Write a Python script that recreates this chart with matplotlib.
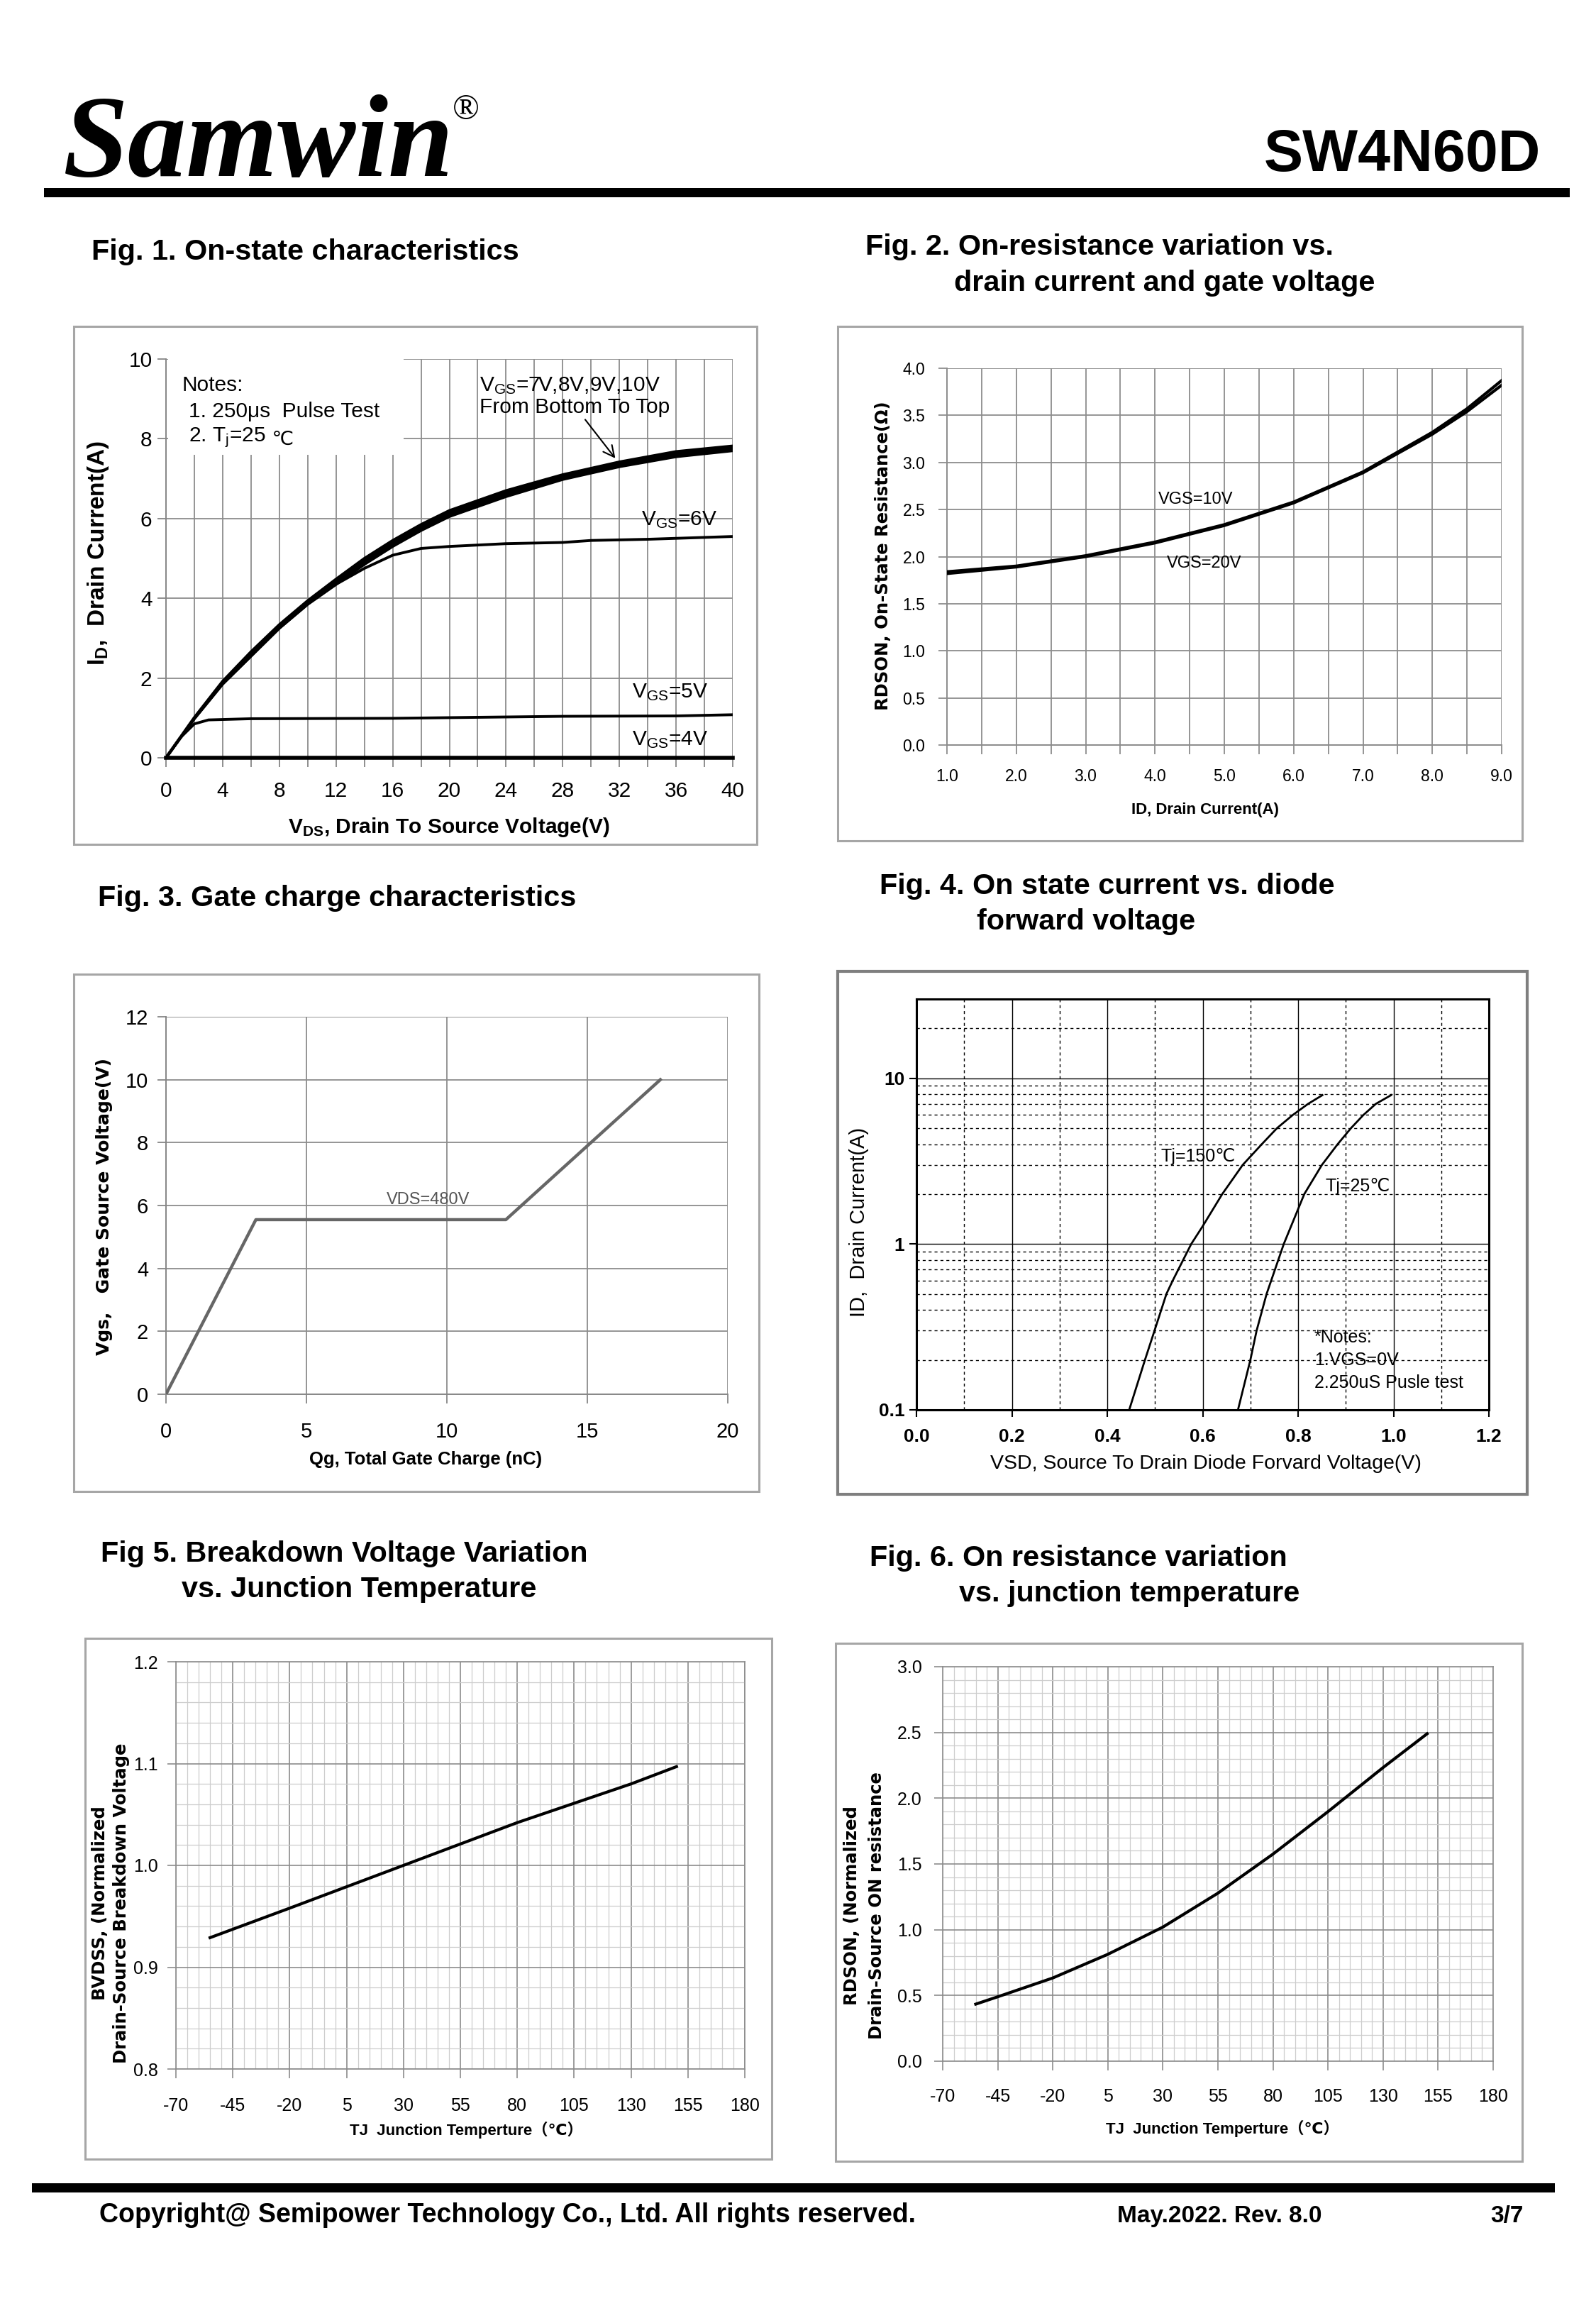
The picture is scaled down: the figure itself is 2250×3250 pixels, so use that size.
import numpy as np
import matplotlib
matplotlib.use("Agg")
import matplotlib.pyplot as plt
from matplotlib.patches import Rectangle
from matplotlib.ticker import MultipleLocator, FixedLocator, LogLocator, NullFormatter, FormatStrFormatter

W, H, DPI = 2250, 3250, 100

# Fig 1: on-state characteristics, VDS (V) vs ID (A)
vds = [0, 2, 4, 6, 8, 10, 12, 14, 16, 18, 20, 24, 28, 32, 36, 40]
id_7v = [0, 0.98, 1.85, 2.55, 3.25, 3.85, 4.35, 4.85, 5.30, 5.70, 6.05, 6.55, 6.98, 7.30, 7.55, 7.70]
id_8v = [0, 0.99, 1.88, 2.60, 3.28, 3.88, 4.40, 4.90, 5.35, 5.75, 6.10, 6.60, 7.02, 7.34, 7.60, 7.74]
id_9v = [0, 1.00, 1.90, 2.63, 3.31, 3.91, 4.44, 4.95, 5.40, 5.80, 6.15, 6.65, 7.06, 7.38, 7.64, 7.78]
id_10v = [0, 1.01, 1.92, 2.66, 3.34, 3.94, 4.48, 5.00, 5.45, 5.85, 6.20, 6.70, 7.10, 7.42, 7.68, 7.82]
vds_6v = [0, 2, 4, 6, 8, 10, 12, 14, 16, 18, 20, 24, 28, 30, 34, 40]
id_6v = [0, 0.98, 1.85, 2.55, 3.25, 3.85, 4.35, 4.75, 5.08, 5.25, 5.30, 5.37, 5.40, 5.45, 5.48, 5.55]
vds_5v = [0, 1, 2, 3, 6, 16, 28, 36, 40]
id_5v = [0, 0.50, 0.85, 0.95, 0.98, 0.99, 1.04, 1.05, 1.08]
vds_4v = [0, 40]
id_4v = [0, 0]

# Fig 2: RDSON vs ID
id2 = [1, 2, 3, 4, 5, 6, 7, 8, 8.5, 9]
rds_10v = [1.84, 1.90, 2.01, 2.155, 2.34, 2.58, 2.90, 3.32, 3.57, 3.87]
rds_20v = [1.82, 1.89, 2.00, 2.145, 2.33, 2.57, 2.89, 3.30, 3.54, 3.82]

# Fig 3: gate charge
qg = [0, 3.2, 12.1, 17.6]
vgs = [0, 5.55, 5.55, 10.0]

# Fig 4: diode forward characteristics
vsd_150 = [0.446, 0.479, 0.499, 0.524, 0.537, 0.576, 0.600, 0.641, 0.684, 0.724, 0.756, 0.789, 0.821, 0.851]
isd_150 = [0.1, 0.2, 0.3, 0.5, 0.6, 1.0, 1.28, 2.0, 3.0, 4.0, 5.0, 6.0, 7.0, 7.9]
vsd_25 = [0.674, 0.700, 0.713, 0.734, 0.770, 0.813, 0.850, 0.883, 0.911, 0.937, 0.963, 0.995]
isd_25 = [0.1, 0.2, 0.3, 0.5, 1.0, 2.0, 3.0, 4.0, 5.0, 6.0, 7.0, 7.9]

# Fig 5: normalized BVDSS vs TJ
tj5 = [-55, -20, 5, 30, 55, 80, 105, 130, 150]
bvdss = [0.929, 0.958, 0.979, 1.0, 1.021, 1.042, 1.061, 1.080, 1.097]

# Fig 6: normalized RDSON vs TJ
tj6 = [-55, -45, -20, 5, 30, 55, 80, 105, 130, 150]
rdson = [0.434, 0.49, 0.633, 0.813, 1.02, 1.278, 1.575, 1.898, 2.233, 2.49]

ARIAL = ['Liberation Sans', 'DejaVu Sans', 'Noto Sans CJK SC']
VERD = ['DejaVu Sans']
plt.rcParams['font.family'] = ARIAL
plt.rcParams['axes.unicode_minus'] = False
plt.rcParams['mathtext.fontset'] = 'custom'
plt.rcParams['mathtext.rm'] = 'Liberation Sans'
plt.rcParams['mathtext.it'] = 'Liberation Sans:italic'
plt.rcParams['mathtext.bf'] = 'Liberation Sans:bold'

GRID = '#8c8c8c'
fig = plt.figure(figsize=(W / DPI, H / DPI), dpi=DPI)


def rect(x0, y0, x1, y1):
    return [x0 / W, 1 - y1 / H, (x1 - x0) / W, (y1 - y0) / H]


def ftext(x, y, s, **kw):
    return fig.text(x / W, 1 - y / H, s, **kw)


def bar(x0, y0, x1, y1, color='black', fill=True, lw=0):
    fig.add_artist(Rectangle((x0 / W, 1 - y1 / H), (x1 - x0) / W, (y1 - y0) / H,
                             transform=fig.transFigure, fill=fill,
                             facecolor=color if fill else 'none',
                             edgecolor=color, linewidth=lw))


def frame(x0, y0, x1, y1, color='#a6a6a6', lw=2.2):
    bar(x0, y0, x1, y1, color=color, fill=False, lw=lw)


def style_axes(ax, color='#868686'):
    for s in ('top', 'right'):
        ax.spines[s].set_visible(False)
    for s in ('left', 'bottom'):
        ax.spines[s].set_color(color)
        ax.spines[s].set_linewidth(1.4)
    ax.set_axisbelow(True)


# ---------------- header / footer ----------------
ftext(88, 248, 'Samwin', family='Liberation Serif', weight='bold', style='italic',
      fontsize=119, va='baseline')
ftext(638, 132, '®', family='Liberation Serif', fontsize=36, va='top')
ftext(2172, 241, 'SW4N60D', weight='bold', fontsize=59.5, ha='right', va='baseline')
bar(62, 265, 2213, 278)

bar(45, 3077, 2192, 3090)
ftext(140, 3132, 'Copyright@ Semipower Technology Co., Ltd. All rights reserved.',
      weight='bold', fontsize=27, va='baseline')
ftext(1575, 3132, 'May.2022. Rev. 8.0', weight='bold', fontsize=24, va='baseline')
ftext(2148, 3132, '3/7', weight='bold', fontsize=24, ha='right', va='baseline')

# ---------------- titles ----------------
TT = dict(weight='bold', fontsize=29.8, va='baseline')
ftext(129, 366, 'Fig. 1. On-state characteristics', **TT)
ftext(1220, 359, 'Fig. 2. On-resistance variation vs.', **TT)
ftext(1345, 410, 'drain current and gate voltage', **TT)
ftext(138, 1277, 'Fig. 3. Gate charge characteristics', **TT)
ftext(1240, 1260, 'Fig. 4. On state current vs. diode', **TT)
ftext(1377, 1310, 'forward voltage', **TT)
ftext(142, 2201, 'Fig 5. Breakdown Voltage Variation', **TT)
ftext(256, 2251, 'vs. Junction Temperature', **TT)
ftext(1226, 2207, 'Fig. 6. On resistance variation', **TT)
ftext(1352, 2257, 'vs. junction temperature', **TT)

# ---------------- Fig 1 ----------------
frame(104, 460, 1067, 1190)
ax1 = fig.add_axes(rect(234, 506, 1033, 1068))
style_axes(ax1)
ax1.set_xlim(0, 40)
ax1.set_ylim(0, 10)
ax1.xaxis.set_major_locator(MultipleLocator(4))
ax1.xaxis.set_minor_locator(MultipleLocator(2))
ax1.yaxis.set_major_locator(MultipleLocator(2))
ax1.grid(which='both', axis='x', color=GRID, lw=1.3)
ax1.grid(which='major', axis='y', color=GRID, lw=1.3)
ax1.tick_params(which='both', direction='out', length=9, width=1.3, color='#868686',
                labelsize=21.5)
ax1.tick_params(axis='x', pad=15)
ax1.tick_params(axis='y', pad=5)
ax1.add_patch(Rectangle((0.15, 7.6), 16.6, 2.6, facecolor='white', edgecolor='none',
                        zorder=1, clip_on=False))
for ys in (id_7v, id_8v, id_9v, id_10v):
    ax1.plot(vds, ys, color='black', lw=2.8, zorder=3)
ax1.plot(vds_6v, id_6v, color='black', lw=2.8, zorder=3)
ax1.plot(vds_5v, id_5v, color='black', lw=2.8, zorder=3)
ax1.plot(vds_4v, id_4v, color='black', lw=4, zorder=3, clip_on=False)
FS1 = 21.5
ax1.text(1.12, 9.34, 'Notes:', fontsize=FS1, va='center', zorder=4)
ax1.text(1.58, 8.68, '1. 250μs  Pulse Test', fontsize=FS1, va='center', zorder=4)
t_tj = ax1.text(1.58, 8.03, '2. T$_\\mathrm{j}$=25 ', fontsize=FS1, va='center', zorder=4)
ax1.annotate(' ℃', xy=(1, 0), xycoords=t_tj, ha='left', va='bottom', fontsize=FS1 - 2,
             family=VERD, zorder=4)
ax1.text(22.15, 9.06, 'V$_\\mathrm{GS}$=7V,8V,9V,10V\nFrom Bottom To Top', fontsize=FS1,
         va='center', linespacing=1.1, zorder=4)
ax1.annotate('', xy=(31.8, 7.47), xytext=(29.5, 8.52),
             arrowprops=dict(arrowstyle='->', lw=1.5, color='black', mutation_scale=28),
             zorder=4)
ax1.text(33.55, 5.96, 'V$_\\mathrm{GS}$=6V', fontsize=FS1, va='center', zorder=4)
ax1.text(32.9, 1.64, 'V$_\\mathrm{GS}$=5V', fontsize=FS1, va='center', zorder=4)
ax1.text(32.9, 0.45, 'V$_\\mathrm{GS}$=4V', fontsize=FS1, va='center', zorder=4)
ftext(139, 780, 'I$_\\mathbf{D}$,  Drain Current(A)', weight='bold', fontsize=24,
      rotation=90, ha='center', va='center')
ftext(633, 1166, 'V$_\\mathbf{DS}$, Drain To Source Voltage(V)', weight='bold', fontsize=21.5,
      ha='center', va='center')

# ---------------- Fig 2 ----------------
frame(1181, 460, 2146, 1185)
ax2 = fig.add_axes(rect(1335, 519, 2117, 1050))
style_axes(ax2, GRID)
ax2.set_xlim(1, 9)
ax2.set_ylim(0, 4)
ax2.xaxis.set_major_locator(MultipleLocator(1))
ax2.xaxis.set_minor_locator(MultipleLocator(0.5))
ax2.yaxis.set_major_locator(MultipleLocator(0.5))
ax2.xaxis.set_major_formatter(FormatStrFormatter('%.1f'))
ax2.yaxis.set_major_formatter(FormatStrFormatter('%.1f'))
ax2.grid(which='both', color=GRID, lw=1.3)
ax2.tick_params(which='both', direction='out', length=9, width=1.3, color=GRID, labelsize=16.5)
ax2.tick_params(axis='x', pad=15)
ax2.tick_params(axis='y', pad=13)
ax2.plot(id2, rds_10v, color='black', lw=3, zorder=3)
ax2.plot(id2, rds_20v, color='black', lw=3, zorder=3)
ax2.text(4.05, 2.61, 'VGS=10V', fontsize=17, va='center')
ax2.text(4.17, 1.93, 'VGS=20V', fontsize=17, va='center')
ftext(1245, 783, 'RDSON, On-State Resistance(Ω)', family=VERD, weight='bold', fontsize=17.5,
      rotation=90, ha='center', va='center')
ftext(1699, 1142, 'ID, Drain Current(A)', weight='bold', fontsize=16, ha='center', va='center')

# ---------------- Fig 3 ----------------
frame(104, 1373, 1070, 2102)
ax3 = fig.add_axes(rect(234, 1433, 1026, 1965))
style_axes(ax3)
ax3.set_xlim(0, 20)
ax3.set_ylim(0, 12)
ax3.xaxis.set_major_locator(MultipleLocator(5))
ax3.yaxis.set_major_locator(MultipleLocator(2))
ax3.grid(color=GRID, lw=1.3)
ax3.tick_params(direction='out', length=9, width=1.3, color='#868686', labelsize=21)
ax3.tick_params(axis='x', pad=19)
ax3.tick_params(axis='y', pad=9)
ax3.plot(qg, vgs, color='#666666', lw=3.2, zorder=3)
ax3.text(7.86, 6.18, 'VDS=480V', fontsize=17, color='#555555', va='center')
ftext(147, 1700, 'Vgs,   Gate Source Voltage(V)', family=VERD, weight='bold', fontsize=18,
      rotation=90, ha='center', va='center')
ftext(600, 2057, 'Qg, Total Gate Charge (nC)', weight='bold', fontsize=18.5,
      ha='center', va='center')

# ---------------- Fig 4 ----------------
frame(1181, 1369, 2153, 2106, color='#7f7f7f', lw=3)
ax4 = fig.add_axes(rect(1292, 1408, 2099, 1987))
ax4.set_yscale('log')
ax4.set_xlim(0, 1.2)
ax4.set_ylim(0.1, 30)
for s in ax4.spines.values():
    s.set_color('black')
    s.set_linewidth(2.2)
ax4.xaxis.set_major_locator(MultipleLocator(0.2))
ax4.xaxis.set_minor_locator(MultipleLocator(0.1))
ax4.xaxis.set_major_formatter(FormatStrFormatter('%.1f'))
ax4.yaxis.set_major_locator(FixedLocator([0.1, 1, 10]))
ax4.set_yticklabels(['0.1', '1', '10'])
ax4.yaxis.set_minor_locator(LogLocator(base=10, subs=np.arange(2, 10)))
ax4.yaxis.set_minor_formatter(NullFormatter())
ax4.grid(which='major', color='black', lw=1.0)
ax4.grid(which='minor', color='black', lw=1.0, linestyle=(0, (3, 3)))
ax4.set_axisbelow(True)
ax4.tick_params(which='major', direction='out', length=7, width=1.5, labelsize=19)
ax4.tick_params(which='minor', length=0)
ax4.tick_params(axis='x', pad=12)
ax4.tick_params(axis='y', pad=5)
for lab in ax4.get_xticklabels() + ax4.get_yticklabels():
    lab.set_fontweight('bold')
ax4.plot(vsd_150, isd_150, color='black', lw=2, zorder=3)
ax4.plot(vsd_25, isd_25, color='black', lw=2, zorder=3)
ax4.text(0.513, 3.37, 'Tj=150℃', fontsize=18, va='center')
ax4.text(0.857, 2.23, 'Tj=25℃', fontsize=18, va='center')
ax4.text(0.834, 0.274, '*Notes:', fontsize=18, va='center')
ax4.text(0.834, 0.200, '1.VGS=0V', fontsize=18, va='center')
ax4.text(0.834, 0.145, '2.250uS Pusle test', fontsize=18, va='center')
ftext(1211, 1722, 'ID,  Drain Current(A)', fontsize=21, rotation=90, ha='center', va='center')
ftext(1700, 2063, 'VSD, Source To Drain Diode Forvard Voltage(V)', fontsize=20.5,
      ha='center', va='center')


# ---------------- Fig 5 / Fig 6 ----------------
def temp_axes(ax, ymin, ymax, ymaj, ymin_step):
    ax.set_xlim(-70, 180)
    ax.set_ylim(ymin, ymax)
    ax.xaxis.set_major_locator(MultipleLocator(25, offset=5))
    ax.xaxis.set_minor_locator(MultipleLocator(5))
    ax.yaxis.set_major_locator(MultipleLocator(ymaj))
    ax.yaxis.set_minor_locator(MultipleLocator(ymin_step))
    ax.yaxis.set_major_formatter(FormatStrFormatter('%.1f'))
    ax.grid(which='major', color=GRID, lw=1.2)
    ax.grid(which='minor', color='#cdcdcd', lw=0.9)
    ax.set_axisbelow(True)
    for s in ax.spines.values():
        s.set_color(GRID)
        s.set_linewidth(1.2)
    ax.tick_params(which='major', direction='out', length=9, width=1.2, color=GRID, labelsize=18)
    ax.tick_params(which='minor', length=0)


frame(120, 2309, 1088, 3043)
ax5 = fig.add_axes(rect(248, 2342, 1050, 2916))
temp_axes(ax5, 0.8, 1.2, 0.1, 0.02)
ax5.tick_params(axis='x', pad=20)
ax5.tick_params(axis='y', pad=9)
ax5.plot(tj5, bvdss, color='black', lw=3, zorder=3)
ftext(141, 2682, 'BVDSS, (Normalized', family=VERD, weight='bold', fontsize=17.5,
      rotation=90, ha='center', va='center')
ftext(171, 2682, 'Drain-Source Breakdown Voltage', family=VERD, weight='bold', fontsize=17.5,
      rotation=90, ha='center', va='center')
ftext(657, 3002, 'TJ  Junction Temperture（℃）', weight='bold', fontsize=16,
      ha='center', va='center')

frame(1178, 2316, 2146, 3046)
ax6 = fig.add_axes(rect(1329, 2349, 2105, 2905))
temp_axes(ax6, 0.0, 3.0, 0.5, 0.1)
ax6.tick_params(axis='x', pad=18)
ax6.tick_params(axis='y', pad=12)
ax6.plot(tj6, rdson, color='black', lw=3, zorder=3)
ftext(1201, 2686, 'RDSON, (Normalized', family=VERD, weight='bold', fontsize=17.5,
      rotation=90, ha='center', va='center')
ftext(1236, 2686, 'Drain-Source ON resistance', family=VERD, weight='bold', fontsize=17.5,
      rotation=90, ha='center', va='center')
ftext(1723, 3000, 'TJ  Junction Temperture（℃）', weight='bold', fontsize=16,
      ha='center', va='center')

fig.savefig('out.png', dpi=DPI, facecolor='white')
